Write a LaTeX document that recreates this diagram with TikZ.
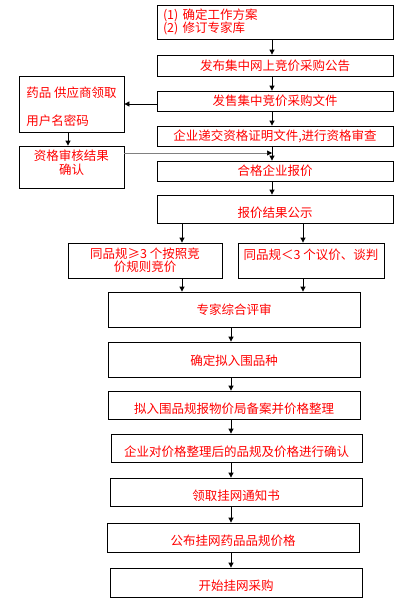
\documentclass[tikz,border=0pt]{standalone}
\usepackage{fontspec}
\setmainfont{Noto Sans CJK SC}
\usetikzlibrary{arrows.meta}
\newcommand\shiftv[2]{\raisebox{#1}[\height][\depth]{#2}}
\begin{document}
\begin{tikzpicture}[x=1pt,y=-1pt,
  box/.style={draw=black, line width=0.8pt, text=red, inner sep=2pt,
    font=\fontsize{12.5}{15}\selectfont},
  arr/.style={line width=0.8pt, -{Triangle[length=5pt,width=5pt]}},
  garr/.style={line width=0.6pt, draw=gray, -{Triangle[length=5pt,width=5pt,color=black,fill=black]}}]
\useasboundingbox[fill=white] (0,0) rectangle (403,608);
% main column
\node[box, minimum width=236, minimum height=34, text width=224, align=left] (b1) at (275,22)
  {(1)\ 确定工作方案\\[-2pt](2)\ 修订专家库};
\node[box, minimum width=236, minimum height=21] (b2) at (275,65.5) {发布集中网上竞价采购公告};
\node[box, minimum width=236, minimum height=20] (b3) at (275,101) {发售集中竞价采购文件};
\node[box, minimum width=236, minimum height=20] (b4) at (275,136) {企业递交资格证明文件,进行资格审查};
\node[box, minimum width=236, minimum height=20] (b5) at (275,171) {合格企业报价};
\node[box, minimum width=236, minimum height=28] (b6) at (275,209) {\shiftv{-4pt}{报价结果公示}};
% left side
\node[box, minimum width=105, minimum height=56] (A) at (71.5,104)
  {\shiftv{-4.5pt}{\begin{tabular}{@{}l@{}}药品 供应商领取\\[12pt]用户名密码\end{tabular}}};
\node[box, minimum width=105, minimum height=42, align=center] (B) at (71.5,167)
  {\shiftv{3pt}{\begin{tabular}{@{}c@{}}资格审核结果\\[-1pt]确认\end{tabular}}};
% split
\node[box, minimum width=154, minimum height=35, align=center] (L) at (145,260.5)
  {同品规≥3 个按照竞\\[-2pt]价规则竞价};
\node[box, minimum width=146, minimum height=35] (R) at (311,260.5)
  {\shiftv{6pt}{同品规＜3 个议价、谈判}};
% lower column
\node[box, minimum width=252, minimum height=35] (b7) at (234,309.5) {专家综合评审};
\node[box, minimum width=252, minimum height=35] (b8) at (234,359.5) {\shiftv{-1.5pt}{确定拟入围品种}};
\node[box, minimum width=252, minimum height=28] (b9) at (234,405) {\shiftv{-4pt}{拟入围品规报物价局备案并价格整理}};
\node[box, minimum width=251, minimum height=28] (b10) at (236.5,448) {\shiftv{-4pt}{企业对价格整理后的品规及价格进行确认}\hspace{10pt}};
\node[box, minimum width=252, minimum height=28] (b11) at (236,492) {\shiftv{-4pt}{领取挂网通知书}};
\node[box, minimum width=252, minimum height=29] (b12) at (233,537.5) {\shiftv{-3.5pt}{公布挂网药品品规价格}};
\node[box, minimum width=252, minimum height=29] (b13) at (236,582.5) {\shiftv{-3.5pt}{开始挂网采购}};
% connector coordinates
\coordinate (mx) at (272,0);
\coordinate (s1) at (182,0);
\coordinate (s2) at (303,0);
\coordinate (lx) at (231,0);
\coordinate (ha) at (0,104);
\coordinate (va) at (68,0);
\coordinate (join) at (272,153);
% connectors
\draw[arr] (b1.south -| mx) -- (b2.north -| mx);
\draw[arr] (b2.south -| mx) -- (b3.north -| mx);
\draw[arr] (b3.south -| mx) -- (b4.north -| mx);
\draw[arr] (b4.south -| mx) -- (b5.north -| mx);
\draw[arr] (b5.south -| mx) -- (b6.north -| mx);
\draw[arr] (b3.west |- ha) -- (A.east |- ha);
\draw[arr] (A.south -| va) -- (B.north -| va);
\draw[garr] (B.east |- join) -- (join);
\draw[arr] (b6.south -| s1) -- (L.north -| s1);
\draw[arr] (b6.south -| s2) -- (R.north -| s2);
\draw[arr] (L.south -| s1) -- (b7.north -| s1);
\draw[arr] (R.south -| s2) -- (b7.north -| s2);
\draw[arr] (b7.south -| lx) -- (b8.north -| lx);
\draw[arr] (b8.south -| lx) -- (b9.north -| lx);
\draw[arr] (b9.south -| lx) -- (b10.north -| lx);
\draw[arr] (b10.south -| lx) -- (b11.north -| lx);
\draw[arr] (b11.south -| lx) -- (b12.north -| lx);
\draw[arr] (b12.south -| lx) -- (b13.north -| lx);
\end{tikzpicture}
\end{document}
